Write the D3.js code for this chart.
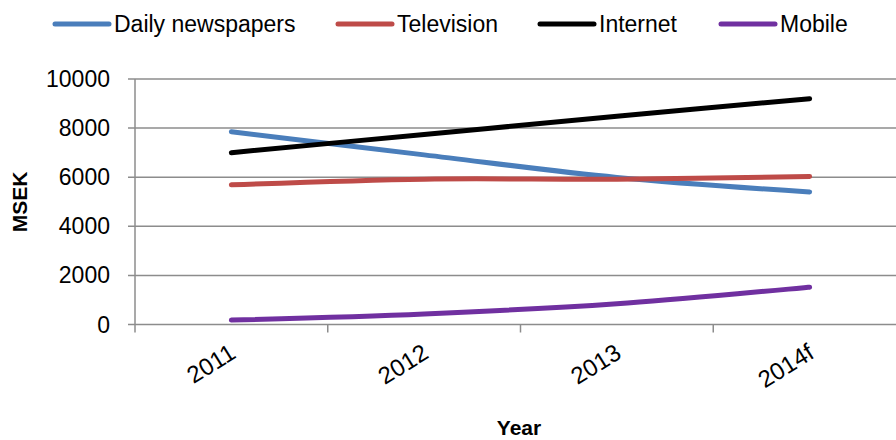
<!DOCTYPE html>
<html>
<head>
<meta charset="utf-8">
<script src="https://cdn.jsdelivr.net/npm/d3@7"></script>
<style>
  body { margin: 0; background: #fff; }
  text { font-family: "Liberation Sans", Arial, sans-serif; fill: #000; }
</style>
</head>
<body>
<svg id="svg" width="896" height="440"></svg>
<script>
var years = ["2011", "2012", "2013", "2014f"];
var seriesNames = ["Daily newspapers", "Television", "Internet", "Mobile"];
var dailyNewspapers = [7850, 6910, 5990, 5400];
var television = [5690, 5920, 5920, 6030];
var internet = [7000, 7740, 8480, 9200];
var mobile = [180, 430, 850, 1520];
var yTicks = [0, 2000, 4000, 6000, 8000, 10000];
var colors = ["#4a7ebb", "#be4b48", "#000000", "#7030a0"];

var svg = d3.select("#svg");
var plotLeft = 135, plotRight = 906, plotTop = 79, plotBottom = 324.5;

var x = d3.scaleBand().domain(years).range([plotLeft, plotRight]);
var y = d3.scaleLinear().domain([0, 10000]).range([plotBottom, plotTop]);

// gridlines
svg.append("g").selectAll("line").data(yTicks).enter().append("line")
  .attr("x1", plotLeft - 7).attr("x2", plotRight)
  .attr("y1", function(d) { return y(d); })
  .attr("y2", function(d) { return y(d); })
  .attr("stroke", "#8c8c8c").attr("stroke-width", 1.5);

// y axis line
svg.append("line")
  .attr("x1", plotLeft).attr("x2", plotLeft).attr("y1", plotTop).attr("y2", plotBottom)
  .attr("stroke", "#8c8c8c").attr("stroke-width", 1.5);

// x tick marks, between categories
var bounds = years.map(function(d) { return x(d); }).concat([plotRight]);
svg.append("g").selectAll("line").data(bounds).enter().append("line")
  .attr("x1", function(d) { return d; }).attr("x2", function(d) { return d; })
  .attr("y1", plotBottom).attr("y2", plotBottom + 8)
  .attr("stroke", "#8c8c8c").attr("stroke-width", 1.5);

// y tick labels
svg.append("g").selectAll("text").data(yTicks).enter().append("text")
  .attr("x", 110)
  .attr("y", function(d) { return y(d); })
  .attr("dy", "0.35em")
  .attr("text-anchor", "end")
  .style("font-size", "23px")
  .text(function(d) { return d; });

// x tick labels, rotated
svg.append("g").selectAll("text").data(years).enter().append("text")
  .attr("transform", function(d) {
    return "translate(" + (x(d) + x.bandwidth() / 2 + 6) + "," + 357 + ") rotate(-32)";
  })
  .attr("text-anchor", "end")
  .style("font-size", "24px")
  .text(function(d) { return d; });

// axis titles
svg.append("text")
  .attr("transform", "translate(27,202) rotate(-90)")
  .attr("text-anchor", "middle")
  .style("font-size", "21px").style("font-weight", "bold")
  .text("MSEK");
svg.append("text")
  .attr("x", 519).attr("y", 435)
  .attr("text-anchor", "middle")
  .style("font-size", "21px").style("font-weight", "bold")
  .text("Year");

// lines
var allSeries = [dailyNewspapers, television, internet, mobile];
var line = d3.line()
  .x(function(d, i) { return x(years[i]) + x.bandwidth() / 2; })
  .y(function(d) { return y(d); })
  .curve(d3.curveCatmullRom.alpha(0.5));

svg.append("g").selectAll("path").data(allSeries).enter().append("path")
  .attr("d", line)
  .attr("fill", "none")
  .attr("stroke", function(d, i) { return colors[i]; })
  .attr("stroke-width", 5)
  .attr("stroke-linecap", "round");

// legend
var legendX = [55, 338, 540, 721];
var legend = svg.append("g").selectAll("g").data(seriesNames).enter().append("g")
  .attr("transform", function(d, i) { return "translate(" + legendX[i] + ",24)"; });
legend.append("line")
  .attr("x1", 0).attr("x2", 54).attr("y1", 0).attr("y2", 0)
  .attr("stroke", function(d, i) { return colors[i]; })
  .attr("stroke-width", 5).attr("stroke-linecap", "round");
legend.append("text")
  .attr("x", 59).attr("y", 0).attr("dy", "0.35em")
  .style("font-size", "23px")
  .text(function(d) { return d; });
</script>
</body>
</html>
